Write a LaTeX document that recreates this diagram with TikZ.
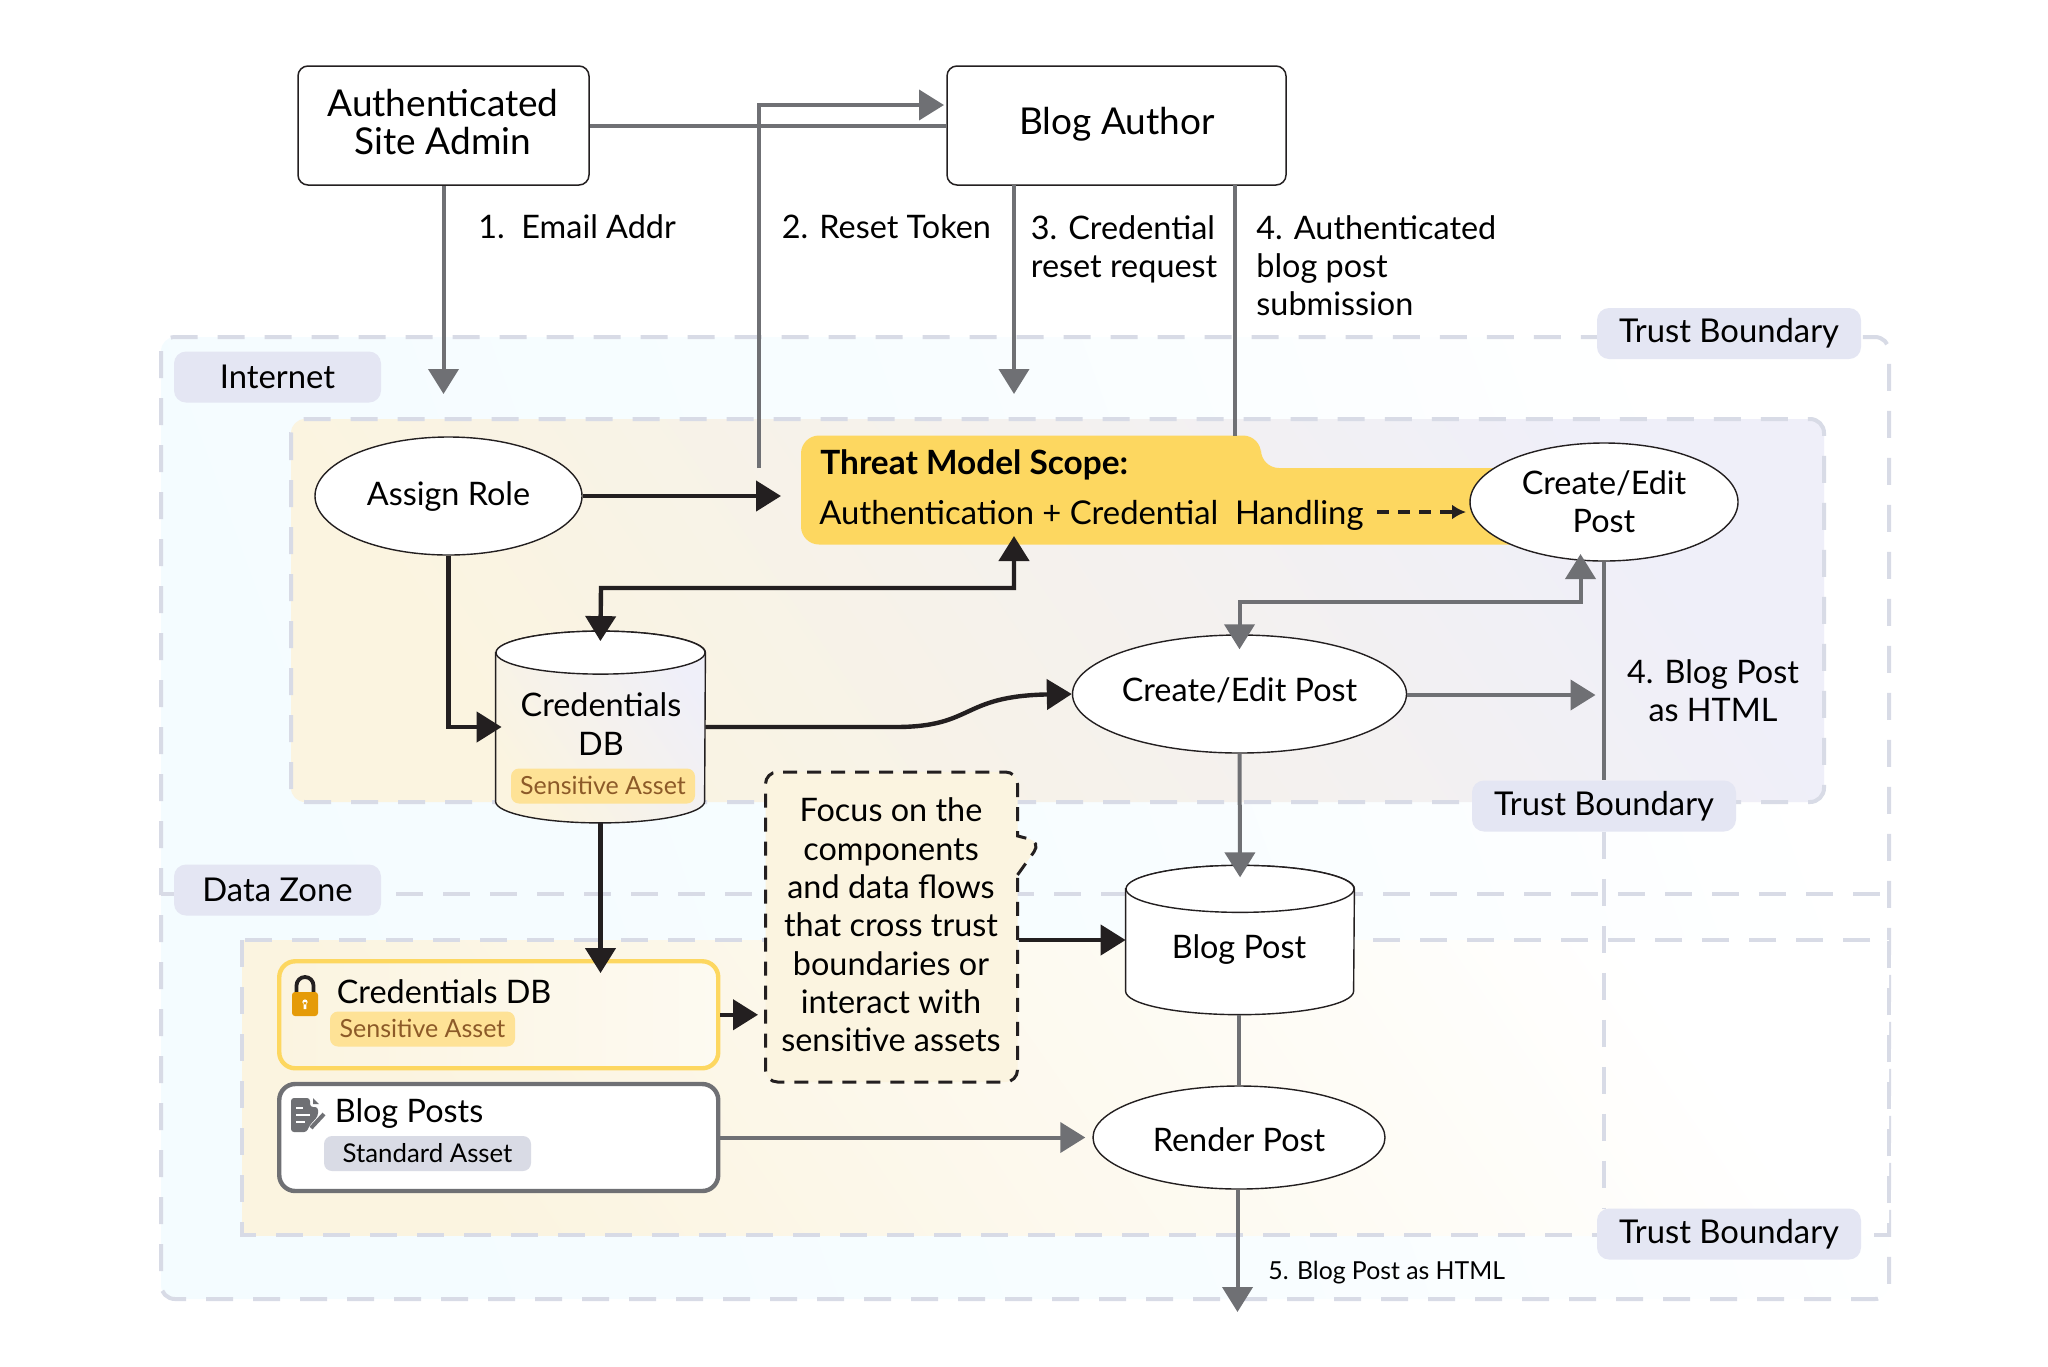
\documentclass[tikz,border=0pt]{standalone}
\usepackage{fontspec}
\setmainfont{Lato}
\usetikzlibrary{calc,arrows.meta,positioning,shapes.geometric,shapes.callouts}
\definecolor{myzone}{RGB}{216,219,230}
\definecolor{mychip}{RGB}{228,230,243}
\definecolor{mygray}{RGB}{111,112,116}
\definecolor{myblack}{RGB}{35,31,32}
\definecolor{myyellow}{RGB}{253,215,96}
\definecolor{mycream}{RGB}{251,244,224}
\definecolor{mylav}{RGB}{239,239,249}
\definecolor{mycyan}{RGB}{244,252,255}
\definecolor{mysens}{RGB}{254,226,150}
\definecolor{mybrown}{RGB}{140,90,40}
\definecolor{mystd}{RGB}{217,219,229}
\definecolor{mylock}{RGB}{229,155,8}

\begin{document}
\begin{tikzpicture}[
  x=0.5pt,
  y=-0.5pt,
  myfont/.style={font=\fontsize{16.2}{19.15}\selectfont},
  mylabel/.style={myfont, align=left, anchor=west, inner sep=0pt},
  mybox/.style={
    draw=myblack,
    line width=0.75pt,
    rounded corners=5pt,
    fill=white,
    minimum height=59.5pt,
    myfont,
    align=center
    },
  myboxtext/.style={font=\fontsize{18.5}{19.15}\selectfont, align=center, inner sep=0pt},
  myproc/.style={
    draw=myblack,
    line width=0.7pt,
    ellipse,
    fill=white,
    inner sep=0pt,
    myfont,
    align=center
    },
  mystore/.style={
    rectangle,
    inner sep=0pt
    },
  mystoreline/.style={
    draw=myblack,
    line width=0.7pt
    },
  myzonechip/.style={
    fill=mychip,
    rounded corners=6pt,
    minimum width=#1,
    minimum height=25.5pt,
    inner sep=0pt,
    font=\fontsize{16.4}{19.15}\selectfont
    },
  myasset/.style={
    rounded corners=4pt,
    minimum height=17.5pt,
    inner sep=0pt,
    font=\fontsize{12.5}{16}\selectfont
    },
  myzoneline/.style={
    draw=myzone,
    line width=2pt,
    dash pattern=on 13.5pt off 10pt
    },
  mygrayline/.style={
    draw=mygray,
    line width=2pt,
    -{Triangle[length=12.5pt,width=15pt]}
    },
  myblackline/.style={
    draw=myblack,
    line width=2.2pt,
    -{Triangle[length=12.5pt,width=15pt]}
    }
]
\useasboundingbox (0,0) rectangle (2048,1366);

\path[myzoneline, rounded corners=7pt, left color=mycyan, right color=white, middle color=mycyan!70, shading angle=110]
  (161,337) rectangle (1889,1299);
\draw[myzoneline] (161,894) -- (1889,894);
\path[myzoneline, rounded corners=7pt, left color=mycream, right color=mylav, shading angle=125]
  (291,419) rectangle (1824,802);
\path[myzoneline, left color=mycream, middle color=mycream!35, right color=white, shading angle=125]
  (242,940) rectangle (1889,1235);

\fill[myyellow, rounded corners=9pt]
  (801,544.5) -- (801,435.5) -- (1261,435.5) -- (1261,468) -- (1540,468) -- (1540,544.5) -- cycle;

\node[mybox, minimum width=145.5pt] (admin) at (443.5,125.5) {};
\node[myboxtext] (admintext) at (443,122) {Authenticated\\Site Admin};
\node[mybox, minimum width=169.5pt] (author) at (1116.5,125.5) {};
\node[myboxtext] (authortext) at (1117,124) {Blog Author};

\node[mylabel] (lbla) at (478,227) {1.\ \ Email Addr};
\node[mylabel] (lblb) at (781.5,227) {2. Reset Token};
\node[mylabel, anchor=north west] (lblc) at (1030.5,215) {3. Credential\\reset request};
\node[mylabel, anchor=north west] (lbld) at (1256,215) {4. Authenticated\\blog post\\submission};
\node[mylabel, align=center, anchor=center] (lble) at (1713,691) {4. Blog Post\\as HTML};
\node[inner sep=0pt, anchor=west, font=\fontsize{12.4}{16}\selectfont] (lblf) at (1268,1273) {5. Blog Post as HTML};

\node[myzonechip=103.5pt] (zonenet) at (277.5,377) {Internet};
\node[myzonechip=103.5pt] (zonedata) at (277.5,890) {Data Zone};
\node[myzonechip=132pt] (trusta) at (1729,333.5) {Trust Boundary};
\node[myzonechip=132pt] (trustb) at (1604,806) {Trust Boundary};
\node[myzonechip=132pt] (trustc) at (1729,1234) {Trust Boundary};

\node[mylabel, font=\fontsize{16.7}{19.15}\selectfont\bfseries] (scopehead) at (820,465) {Threat Model Scope:};
\node[mylabel, font=\fontsize{16.4}{19.15}\selectfont] (scopetext) at (819,515) {Authentication + Credential\ \ Handling};

\node[myproc, minimum width=133.5pt, minimum height=59pt] (assign) at (448.5,496) {};
\node[myfont, inner sep=0pt] (assigntext) at (448.5,497) {Assign Role};
\node[myproc, minimum width=134pt, minimum height=59pt] (createtop) at (1604,502) {};
\node[myfont, align=center, inner sep=0pt] (createtoptext) at (1604,502) {Create/Edit\\Post};
\node[myproc, minimum width=167pt, minimum height=59pt] (createmid) at (1239.5,694) {};
\node[myfont, inner sep=0pt] (createmidtext) at (1239.5,690) {Create/Edit Post};
\node[myproc, minimum width=146pt, minimum height=51.5pt] (render) at (1239,1137.5) {};
\node[myfont, inner sep=0pt] (rendertext) at (1239,1140) {Render Post};

\node[mystore, minimum width=104.5pt, minimum height=95.5pt] (creddb) at (600.5,727) {};
\path[mystoreline, left color=mycream, right color=mylav, shading angle=125]
  ([yshift=-10.75pt]creddb.north west) -- ([yshift=10.75pt]creddb.south west) arc (180:0:104.5 and 21.5)
  -- ([yshift=-10.75pt]creddb.north east) arc (0:-180:104.5 and 21.5) -- cycle;
\draw[mystoreline, fill=white] ([yshift=-10.75pt]creddb.north) ellipse [x radius=104.5, y radius=21.5];
\node[myfont, align=center, inner sep=0pt] (creddbtext) at (601,724) {Credentials\\DB};
\node[myasset, fill=mysens, text=mybrown, minimum width=92pt] (creddbchip) at (603,786) {\raisebox{0.7pt}{Sensitive Asset}};

\node[mystore, minimum width=114pt, minimum height=74.25pt] (blogdb) at (1240,940) {};
\path[mystoreline, fill=white]
  ([yshift=-11.75pt]blogdb.north west) -- ([yshift=11.75pt]blogdb.south west) arc (180:0:114 and 23.5)
  -- ([yshift=-11.75pt]blogdb.north east) arc (0:-180:114 and 23.5) -- cycle;
\draw[mystoreline, fill=white] ([yshift=-11.75pt]blogdb.north) ellipse [x radius=114, y radius=23.5];
\node[myfont, inner sep=0pt] (blogdbtext) at (1239,950) {Blog Post};

\node[draw=myyellow, line width=2.2pt, rounded corners=8pt, left color=mycream, right color=mycream!45,
  minimum width=219.5pt, minimum height=53.5pt] (credbox) at (498.75,1014.75) {};
\node[mylabel] (credboxtext) at (336.5,992) {Credentials DB};
\node[myasset, fill=mysens, text=mybrown, minimum width=92.5pt] (credboxchip) at (422.5,1029) {\raisebox{0.7pt}{Sensitive Asset}};

\node[draw=mygray, line width=2.2pt, rounded corners=8pt, fill=white,
  minimum width=219.5pt, minimum height=53.5pt] (postbox) at (498.75,1137.5) {};
\node[mylabel] (postboxtext) at (334.5,1114) {Blog Posts};
\node[myasset, fill=mystd, minimum width=103.5pt, font=\fontsize{12.9}{16}\selectfont] (postboxchip) at (427.5,1153.5) {Standard Asset};

% lock
\draw[myblack, line width=1.9pt] (296.5,996) -- (296.5,985.5) arc (180:360:8.5) -- (313.5,996);
\fill[mylock, rounded corners=1.5pt] (292,992) rectangle (318,1016);
\fill[white] (305,1002) circle (2.6) (303.6,1002) rectangle (306.4,1009);

% document
\fill[mygray, rounded corners=1.5pt] (291,1098) -- (310,1098) -- (310,1107) -- (318,1107) -- (318,1116) -- (309,1126) -- (307,1132) -- (291,1132) -- cycle;
\fill[mygray] (313,1098) -- (319,1104) -- (313,1104) -- cycle;
\draw[white, line width=1.2pt] (296,1108) -- (303,1108) (296,1115) -- (310,1115) (296,1122) -- (305,1122);
\draw[mygray, line width=2pt] (311,1128) -- (324,1114);

\node[shape=rectangle callout, draw=myblack, line width=1.5pt, dash pattern=on 7pt off 5pt, rounded corners=6pt,
  fill=mycream, minimum width=126pt, minimum height=155pt, inner sep=0pt,
  callout absolute pointer={(1041,842)}, callout pointer width=19.5pt] (focus) at (891.5,927) {};
\node[myfont, align=center, inner sep=0pt] (focustext) at (891,925)
  {Focus on the\\components\\and data flows\\that cross trust\\boundaries or\\interact with\\sensitive assets};

\draw[myzoneline] (trustb.south) -- (trustb.south |- trustc.north);

\coordinate (resetstart) at (759,468);
\coordinate (resetbend) at (759,105);
\coordinate (resetend) at (944,105);
\coordinate (emailend) at (443.5,394);
\coordinate (credreq) at (1014,185);
\coordinate (credend) at (1014,394);
\coordinate (postreq) at (1235,185);
\coordinate (postend) at (1235,435.5);
\coordinate (assignend) at (781,496);
\coordinate (doublebend) at (601,588);
\coordinate (doubleend) at (1014,536);
\coordinate (graybend) at (1239.5,601.5);
\coordinate (grayend) at (1580.5,554);
\coordinate (blogend) at (1595.5,695);
\coordinate (dashstart) at (1377,512);
\coordinate (dashend) at (1466,512);
\coordinate (htmlend) at (1237.5,1312);

\draw[mygray, line width=2pt] (admin.east) -- (author.west);
\draw[mygrayline] (resetstart) -- (resetbend) -- (resetend);
\draw[mygrayline] (admin.south) -- (emailend);
\draw[mygrayline] (credreq) -- (credend);
\draw[mygray, line width=2pt] (postreq) -- (postend);
\draw[myblackline] (assign.east |- assignend) -- (assignend);
\draw[myblackline] (assign.south) |- ([xshift=3pt]creddb.west);
\draw[myblackline, {Triangle[length=12.5pt,width=15pt]}-{Triangle[length=12.5pt,width=15pt]}, shorten <=-5pt]
  (creddb.north) -- (doublebend) -| (doubleend);
\draw[myblackline] (creddb.east) -- ++(190,0) .. controls (975,727) and (960,696) .. (createmid.west);
\draw[myblack, line width=1.6pt, dash pattern=on 6pt off 4.5pt, -{Latex[length=7pt,width=7.5pt]}] (dashstart) -- (dashend);
\draw[mygrayline, {Triangle[length=12.5pt,width=15pt]}-{Triangle[length=12.5pt,width=15pt]}, shorten <=-7.5pt]
  (createmid.north) -- (graybend) -| (grayend);
\draw[mygray, line width=2pt] (createtop.south) -- (trustb.north);
\draw[mygrayline] (createmid.east |- blogend) -- (blogend);
\draw[mygrayline, shorten >=-6pt] (createmid.south) -- (blogdb.north);
\draw[mygray, line width=2pt] (blogdb.south -| render.north) -- (render.north);
\draw[mygrayline] (render.south -| htmlend) -- (htmlend);
\draw[myblackline, shorten >=-7pt] (creddb.south) -- (credbox.north -| creddb.south);
\draw[myblackline] (credbox.east) -- ([xshift=-3pt]focus.west |- credbox.east);
\draw[myblackline] (focus.east |- blogdb.center) -- (blogdb.west |- blogdb.center);
\draw[mygrayline] (postbox.east) -- ([xshift=-3.5pt]render.west);

\end{tikzpicture}
\end{document}
